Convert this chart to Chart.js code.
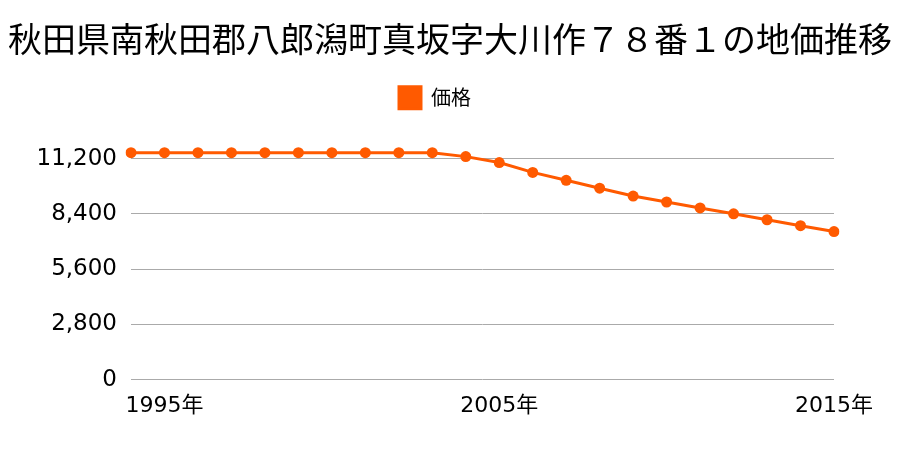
<!DOCTYPE html>
<html>
<head>
<meta charset="utf-8">
<script src="https://cdn.jsdelivr.net/npm/chart.js@4.4.1/dist/chart.umd.min.js"></script>
<style>
  html, body { margin: 0; padding: 0; background: #fff; }
  #wrap { width: 900px; height: 450px; }
</style>
</head>
<body>
<div id="wrap"><canvas id="priceChart" width="900" height="450"></canvas></div>
<script>
// データ（年ごとの地価）
const years = ['1994', '1995', '1996', '1997', '1998', '1999', '2000', '2001', '2002', '2003', '2004',
               '2005', '2006', '2007', '2008', '2009', '2010', '2011', '2012', '2013', '2014', '2015'];
const prices = [11500, 11500, 11500, 11500, 11500, 11500, 11500, 11500, 11500, 11500, 11300,
                11000, 10500, 10100, 9700, 9300, 9000, 8700, 8400, 8100, 7800, 7500];
const yTicks = [0, 2800, 5600, 8400, 11200];
const xLabelYears = ['1995', '2005', '2015'];

const FONT = "'Noto Sans CJK JP', 'Noto Sans', sans-serif";
const TICK_FONT = "'DejaVu Sans', 'Noto Sans CJK JP', sans-serif";
const ORANGE = '#ff5a00';

// 凡例の下に余白を足す、少し左へ寄せる
const legendMargin = {
    id: 'legendMargin',
    beforeInit(chart) {
        const fit = chart.legend.fit;
        chart.legend.fit = function() {
            fit.bind(chart.legend)();
            this.height += 24;
        };
    },
    afterLayout(chart) {
        chart.legend.left -= 15;
        chart.legend.right -= 15;
    }
};

const ctx = document.getElementById('priceChart');

new Chart(ctx, {
    type: 'line',
    data: {
        labels: years,
        datasets: [{
            label: '価格',
            data: prices,
            borderColor: ORANGE,
            backgroundColor: ORANGE,
            borderWidth: 3,
            pointRadius: 5.5,
            pointBackgroundColor: ORANGE,
            pointBorderWidth: 0,
            tension: 0,
            fill: false
        }]
    },
    plugins: [legendMargin],
    options: {
        responsive: false,
        animation: false,
        layout: { padding: { left: 0, right: 0, top: 0, bottom: 26 } },
        plugins: {
            title: {
                display: true,
                text: '秋田県南秋田郡八郎潟町真坂字大川作７８番１の地価推移',
                color: '#000',
                font: { family: FONT, size: 34, weight: 'normal' },
                padding: { top: 19, bottom: 15 }
            },
            legend: {
                position: 'top',
                labels: {
                    color: '#000',
                    boxWidth: 22,
                    boxHeight: 22,
                    padding: 12,
                    font: { family: FONT, size: 20 }
                }
            },
            tooltip: { enabled: false }
        },
        scales: {
            x: {
                offset: false,
                grid: { display: false },
                border: { display: false },
                ticks: {
                    autoSkip: false,
                    maxRotation: 0,
                    padding: 5,
                    color: '#000',
                    font: { family: TICK_FONT, size: 22 },
                    callback: function(value, index) {
                        const y = years[index];
                        return xLabelYears.includes(y) ? y + '年' : null;
                    }
                }
            },
            y: {
                min: 0,
                max: 12000,
                border: { display: false },
                grid: { color: '#aaaaaa', lineWidth: 1, drawTicks: false },
                afterBuildTicks: function(axis) {
                    axis.ticks = yTicks.map(v => ({ value: v }));
                },
                afterFit: function(axis) { axis.width = 131; },
                ticks: {
                    padding: 14,
                    color: '#000',
                    font: { family: TICK_FONT, size: 23 },
                    callback: function(value) { return value.toLocaleString('en-US'); }
                }
            },
            // 右側の余白用（表示なし）
            yRight: {
                position: 'right',
                display: true,
                grid: { display: false },
                border: { display: false },
                ticks: { display: false },
                afterFit: function(axis) { axis.width = 66; }
            }
        }
    }
});
</script>
</body>
</html>
